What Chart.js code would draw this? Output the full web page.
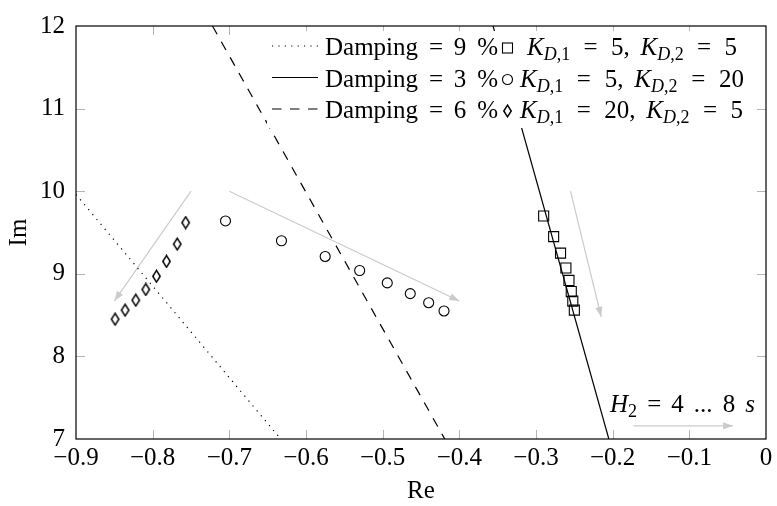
<!DOCTYPE html>
<html><head><meta charset="utf-8">
<script src="https://cdn.jsdelivr.net/npm/chart.js@4.4.0/dist/chart.umd.min.js"></script>
<style>html,body{margin:0;padding:0;background:#fff;}canvas{display:block;}</style>
</head><body>
<canvas id="c" width="777" height="506"></canvas>
<script>
// ---- data ----
const xTickValues = [-0.9, -0.8, -0.7, -0.6, -0.5, -0.4, -0.3, -0.2, -0.1, 0];
const xTickLabels = ['−0.9', '−0.8', '−0.7', '−0.6', '−0.5', '−0.4', '−0.3', '−0.2', '−0.1', '0'];
const yTickValues = [7, 8, 9, 10, 11, 12];
const yTickLabels = ['7', '8', '9', '10', '11', '12'];

// K_D1 = 5, K_D2 = 5 (squares)
const reSquare = [-0.290, -0.277, -0.268, -0.261, -0.257, -0.254, -0.252, -0.250];
const imSquare = [9.70, 9.45, 9.25, 9.07, 8.92, 8.785, 8.67, 8.56];
// K_D1 = 5, K_D2 = 20 (circles)
const reCircle = [-0.705, -0.632, -0.575, -0.530, -0.494, -0.464, -0.440, -0.420];
const imCircle = [9.64, 9.40, 9.21, 9.04, 8.89, 8.76, 8.65, 8.55];
// K_D1 = 20, K_D2 = 5 (diamonds)
const reDiamond = [-0.757, -0.768, -0.782, -0.795, -0.809, -0.822, -0.836, -0.849];
const imDiamond = [9.62, 9.36, 9.15, 8.97, 8.81, 8.68, 8.56, 8.45];

// constant damping lines
const reDamp9 = [-0.9, -0.633];  const imDamp9 = [9.96, 7];
const reDamp3 = [-0.356, -0.205]; const imDamp3 = [12, 7];
const reDamp6 = [-0.722, -0.419]; const imDamp6 = [12, 7];

// gray direction arrows (start -> tip)
const arrowRe = [[-0.75, -0.85], [-0.70, -0.40], [-0.255, -0.215], [-0.173, -0.043]];
const arrowIm = [[10.0, 8.67], [10.0, 8.67], [10.0, 8.48], [7.16, 7.16]];

// legend texts
const dampingLabels = ['9', '3', '6'];
const kd1Labels = ['5', '5', '20'];
const kd2Labels = ['5', '20', '5'];
const h2Range = ['4', '8'];

// ---- font detection ----
function pickFont() {
  const c = document.createElement('canvas').getContext('2d');
  const sample = 'Damping mwKD 0123';
  const cands = ['Liberation Serif', 'Tinos', 'Times New Roman', 'DejaVu Serif', 'Noto Serif', 'FreeSerif'];
  for (const f of cands) {
    let ok = true;
    for (const fb of ['monospace', 'sans-serif']) {
      c.font = '24px ' + fb; const w0 = c.measureText(sample).width;
      c.font = '24px "' + f + '", ' + fb; const w1 = c.measureText(sample).width;
      if (Math.abs(w0 - w1) < 0.01) ok = false;
    }
    if (ok) return '"' + f + '", serif';
  }
  return 'serif';
}
const FAM = pickFont();
const R = '25px ' + FAM, I = 'italic 25px ' + FAM, Rs = '18px ' + FAM, Is = 'italic 18px ' + FAM;
const GRAY = '#cbcbcb';

function pts(xs, ys) { return xs.map((v, i) => ({x: v, y: ys[i]})); }

function makeDiamond() {
  const c = document.createElement('canvas');
  c.width = 11; c.height = 14;
  const g = c.getContext('2d');
  g.strokeStyle = '#000'; g.lineWidth = 1.5;
  g.beginPath(); g.moveTo(5.5, 1.2); g.lineTo(9.2, 7); g.lineTo(5.5, 12.8); g.lineTo(1.8, 7); g.closePath(); g.stroke();
  return c;
}
const diamondImg = makeDiamond();

const lineDs = (xs, ys, dash) => ({data: pts(xs, ys), showLine: true, borderColor: '#000', borderWidth: 1.2,
  borderDash: dash, pointRadius: 0, fill: false, tension: 0});
const markDs = (xs, ys, style, r) => ({data: pts(xs, ys), showLine: false, pointStyle: style, pointRadius: r,
  borderColor: '#000', backgroundColor: 'rgba(0,0,0,0)', borderWidth: 1.1, pointBorderWidth: 1.1});

const datasets = [
  lineDs(reDamp9, imDamp9, [1.2, 5.2]),
  lineDs(reDamp3, imDamp3, []),
  lineDs(reDamp6, imDamp6, [9.5, 8.5]),
  markDs(reSquare, imSquare, 'rect', 7.1),
  markDs(reCircle, imCircle, 'circle', 5),
  markDs(reDiamond, imDiamond, diamondImg, 6),
];
arrowRe.forEach((xs, i) => datasets.push({data: pts(xs, arrowIm[i]), showLine: true, borderColor: GRAY,
  borderWidth: 1.2, pointRadius: 0, isArrow: true}));

function flow(ctx, pieces, x0, x1, y) {
  const widths = pieces.map(p => { ctx.font = p[1]; return ctx.measureText(p[0]).width; });
  let total = widths.reduce((a, b) => a + b, 0), nflex = pieces.reduce((a, p) => a + p[3], 0);
  const gap = nflex ? (x1 - x0 - total) / nflex : 0;
  let x = x0;
  ctx.textAlign = 'left'; ctx.textBaseline = 'alphabetic';
  pieces.forEach((p, i) => { x += gap * p[3]; ctx.font = p[1]; ctx.fillText(p[0], x, y + p[2]); x += widths[i]; });
}

const decor = {
  id: 'decor',
  beforeDatasetsDraw(chart) {
    const {ctx, chartArea: a, scales: {x, y}} = chart;
    ctx.save(); ctx.strokeStyle = '#b4b4b4'; ctx.lineWidth = 1; const L = 9;
    ctx.beginPath();
    xTickValues.slice(1, -1).forEach(v => {
      const px = Math.round(x.getPixelForValue(v)) + 0.5;
      ctx.moveTo(px, a.bottom); ctx.lineTo(px, a.bottom - L);
      ctx.moveTo(px, a.top); ctx.lineTo(px, a.top + L);
    });
    yTickValues.slice(1, -1).forEach(v => {
      const py = Math.round(y.getPixelForValue(v)) + 0.5;
      ctx.moveTo(a.left, py); ctx.lineTo(a.left + L, py);
      ctx.moveTo(a.right, py); ctx.lineTo(a.right - L, py);
    });
    ctx.stroke(); ctx.restore();
  },
  afterDatasetsDraw(chart) {
    const {ctx} = chart;
    ctx.save();
    // arrow heads
    chart.data.datasets.forEach((ds, i) => {
      if (!ds.isArrow) return;
      const el = chart.getDatasetMeta(i).data;
      const p0 = el[0], p1 = el[el.length - 1];
      const ang = Math.atan2(p1.y - p0.y, p1.x - p0.x);
      const len = 10, hw = 3.6;
      ctx.fillStyle = GRAY;
      ctx.beginPath();
      ctx.moveTo(p1.x, p1.y);
      ctx.lineTo(p1.x - len * Math.cos(ang) + hw * Math.sin(ang), p1.y - len * Math.sin(ang) - hw * Math.cos(ang));
      ctx.lineTo(p1.x - len * Math.cos(ang) - hw * Math.sin(ang), p1.y - len * Math.sin(ang) + hw * Math.cos(ang));
      ctx.closePath(); ctx.fill();
    });
    // legend box
    ctx.fillStyle = '#fff';
    ctx.fillRect(267, 31, 483, 97);
    const base = [55, 86.5, 118];
    const kStart = [527, 520, 520], kEnd = [737, 744, 743];
    ctx.fillStyle = '#000'; ctx.strokeStyle = '#000';
    base.forEach((b, i) => {
      const dsl = datasets[i];
      ctx.lineWidth = 1.2; ctx.setLineDash(dsl.borderDash);
      ctx.beginPath(); ctx.moveTo(272, b - 9); ctx.lineTo(318, b - 9); ctx.stroke();
      ctx.setLineDash([]);
      flow(ctx, [['Damping', R, 0, 0], ['=', R, 0, 1], [dampingLabels[i], R, 0, 1], ['%', R, 0, 1]], 325, 498, b);
      const my = b - 7, mx = 507.5;
      ctx.lineWidth = 1.1;
      if (i === 0) ctx.strokeRect(mx - 5, my - 5, 10, 10);
      else if (i === 1) { ctx.beginPath(); ctx.arc(mx, my, 5, 0, Math.PI * 2); ctx.stroke(); }
      else ctx.drawImage(diamondImg, Math.round(mx - 5.5), Math.round(my - 7));
      flow(ctx, [['K', I, 0, 0], ['D', Is, 5, 0], [',1', Rs, 5, 0], ['=', R, 0, 1], [kd1Labels[i] + ',', R, 0, 1],
        ['K', I, 0, 0.8], ['D', Is, 5, 0], [',2', Rs, 5, 0], ['=', R, 0, 1], [kd2Labels[i], R, 0, 1]], kStart[i], kEnd[i], b);
    });
    // H2 annotation
    flow(ctx, [['H', I, 0, 0], ['2', Rs, 5, 0], ['=', R, 0, 1], [h2Range[0], R, 0, 1], ['...', R, 0, 1],
      [h2Range[1], R, 0, 1], ['s', I, 0, 1]], 610, 755, 412);
    ctx.restore();
  },
  afterDraw(chart) {
    const {ctx, chartArea: a} = chart;
    ctx.save(); ctx.strokeStyle = '#000'; ctx.lineWidth = 1.2;
    ctx.strokeRect(a.left, a.top, a.right - a.left, a.bottom - a.top);
    ctx.restore();
  }
};

const tickFont = {family: FAM, size: 25};
new Chart(document.getElementById('c'), {
  type: 'scatter',
  data: {datasets},
  options: {
    responsive: false, animation: false, devicePixelRatio: 1,
    layout: {padding: {top: 17, right: 11, left: 0, bottom: 0}},
    plugins: {legend: {display: false}, tooltip: {enabled: false}},
    scales: {
      x: {
        type: 'linear', min: -0.9, max: 0,
        afterFit(s) { s.height = 67; },
        afterBuildTicks(s) { s.ticks = xTickValues.map(v => ({value: v})); },
        grid: {display: false, drawTicks: false}, border: {display: false},
        ticks: {font: tickFont, color: '#000', padding: 4, maxRotation: 0, autoSkip: false,
          callback: v => xTickLabels[xTickValues.findIndex(t => Math.abs(t - v) < 1e-9)]},
        title: {display: true, text: 'Re', font: tickFont, color: '#000', padding: {top: 0, bottom: 0}}
      },
      y: {
        type: 'linear', min: 7, max: 12,
        afterFit(s) { s.width = 76; },
        afterBuildTicks(s) { s.ticks = yTickValues.map(v => ({value: v})); },
        grid: {display: false, drawTicks: false}, border: {display: false},
        ticks: {font: tickFont, color: '#000', padding: 11, autoSkip: false,
          callback: v => yTickLabels[yTickValues.findIndex(t => Math.abs(t - v) < 1e-9)]},
        title: {display: true, text: 'Im', font: tickFont, color: '#000', padding: {top: 4, bottom: 0}}
      }
    }
  },
  plugins: [decor]
});
</script>
</body></html>
